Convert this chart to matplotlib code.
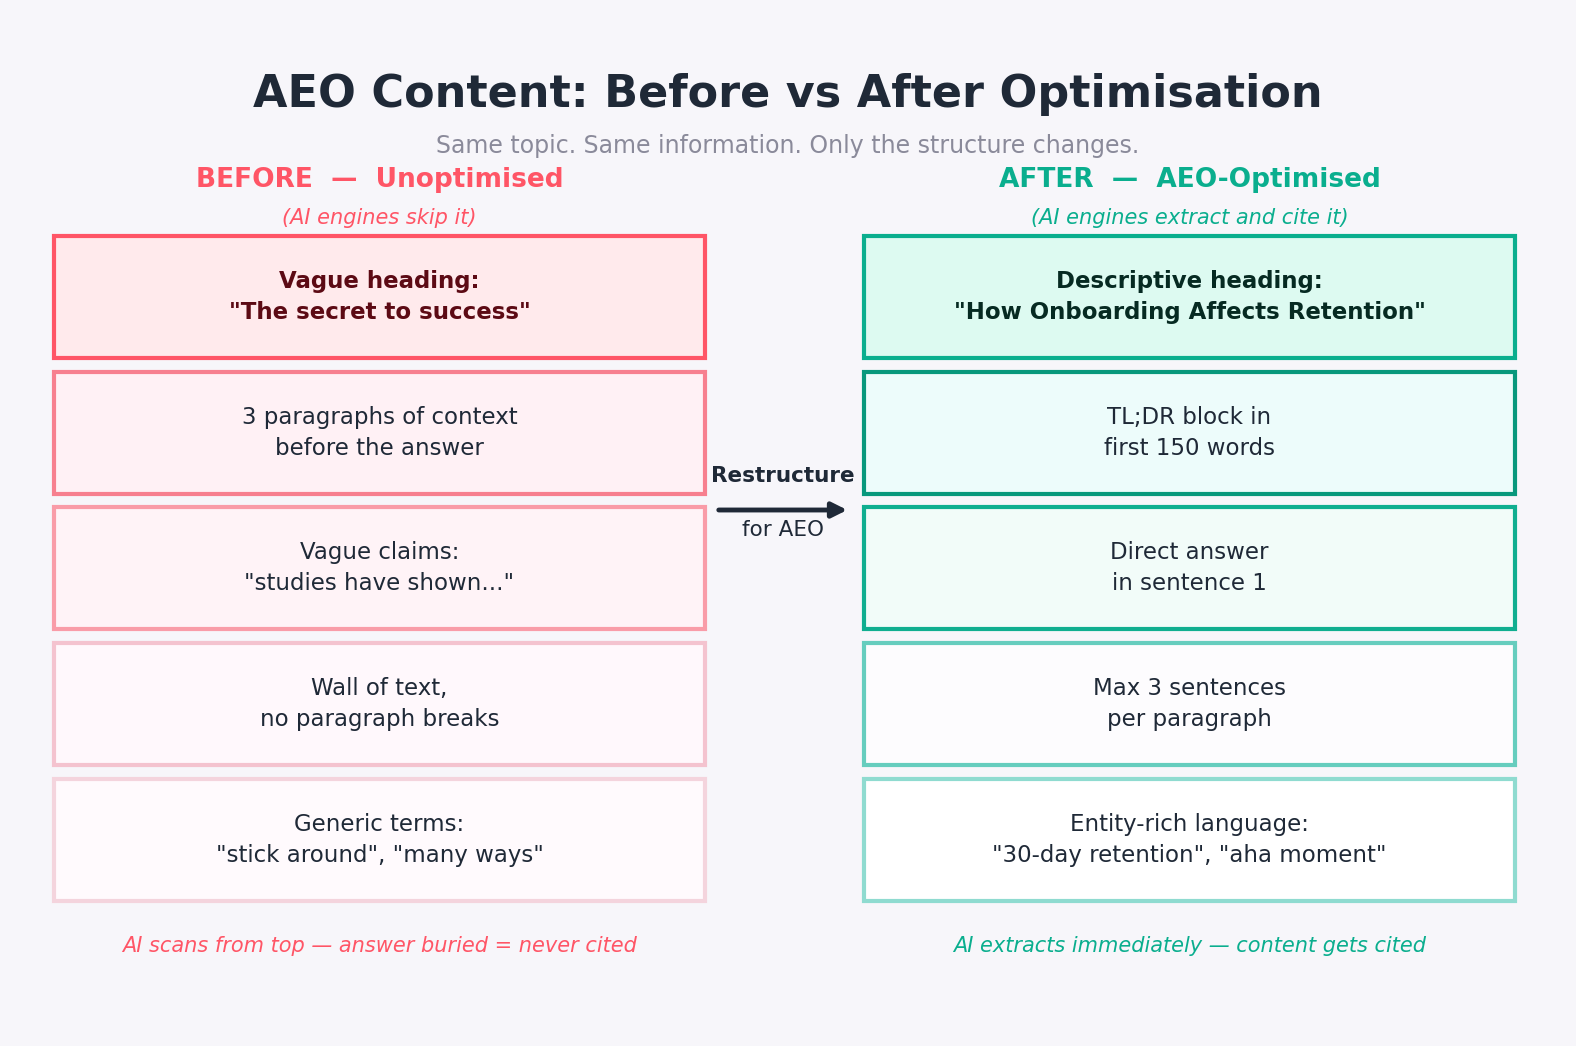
import matplotlib
matplotlib.use("Agg")
import matplotlib.pyplot as plt
from matplotlib.patches import Rectangle

title = "AEO Content: Before vs After Optimisation"
subtitle = "Same topic. Same information. Only the structure changes."
before_header = "BEFORE  —  Unoptimised"
before_sub = "(AI engines skip it)"
after_header = "AFTER  —  AEO-Optimised"
after_sub = "(AI engines extract and cite it)"
before_items = ['Vague heading:\n"The secret to success"',
                '3 paragraphs of context\nbefore the answer',
                'Vague claims:\n"studies have shown..."',
                'Wall of text,\nno paragraph breaks',
                'Generic terms:\n"stick around", "many ways"']
after_items = ['Descriptive heading:\n"How Onboarding Affects Retention"',
               'TL;DR block in\nfirst 150 words',
               'Direct answer\nin sentence 1',
               'Max 3 sentences\nper paragraph',
               'Entity-rich language:\n"30-day retention", "aha moment"']
before_footer = "AI scans from top — answer buried = never cited"
after_footer = "AI extracts immediately — content gets cited"
arrow_label = ("Restructure", "for AEO")

b_edge = ["#FF5566", "#F7808F", "#F99CA8", "#F4C3CF", "#F4D4DD"]
b_fill = ["#FFEAEC", "#FFF1F5", "#FFF3F7", "#FFF8FC", "#FFFAFD"]
a_edge = ["#0AAE8E", "#08987C", "#10AE90", "#66CDBE", "#8FDBD0"]
a_fill = ["#DDFAF1", "#EDFCFB", "#F2FCF9", "#FDFCFE", "#FFFFFF"]

fig = plt.figure(figsize=(15.76, 10.46), dpi=100)
fig.patch.set_facecolor("#F7F6FA")
ax = fig.add_axes([0, 0, 1, 1])
ax.set_xlim(0, 1576); ax.set_ylim(1046, 0); ax.axis("off")

ax.text(788, 95, title, ha="center", va="center", fontsize=32, fontweight="bold", color="#1F2937")
ax.text(788, 146, subtitle, ha="center", va="center", fontsize=17, color="#8A8A9A")

cols = [(54, before_header, before_sub, before_items, b_edge, b_fill, "#FF5566", "#5C0A14", before_footer),
        (864, after_header, after_sub, after_items, a_edge, a_fill, "#0AAE8E", "#062A22", after_footer)]
w, h, step = 651, 122, 135.7
for x0, hd, sb, items, ec, fc, col, dark, foot in cols:
    cx = x0 + w / 2
    ax.text(cx, 180, hd, ha="center", va="center", fontsize=19, fontweight="bold", color=col)
    ax.text(cx, 218, sb, ha="center", va="center", fontsize=15, style="italic", color=col)
    for i, t in enumerate(items):
        y0 = 236 + i * step
        ax.add_patch(Rectangle((x0, y0), w, h, facecolor=fc[i], edgecolor=ec[i], lw=3))
        if i == 0:
            ax.text(cx, y0 + h / 2, t, ha="center", va="center", fontsize=16.5,
                    fontweight="bold", color=dark, linespacing=1.45)
        else:
            ax.text(cx, y0 + h / 2, t, ha="center", va="center", fontsize=16.5,
                    color="#1F2937", linespacing=1.45)
    ax.text(cx, 946, foot, ha="center", va="center", fontsize=15, style="italic", color=col)

ax.annotate("", xy=(850, 510), xytext=(716, 510),
            arrowprops=dict(arrowstyle="-|>,head_length=0.9,head_width=0.45", color="#1F2937", lw=3.5))
ax.text(783, 476, arrow_label[0], ha="center", va="center", fontsize=15.5, fontweight="bold", color="#1F2937")
ax.text(783, 530, arrow_label[1], ha="center", va="center", fontsize=15.5, color="#1F2937")

fig.savefig("out.png", dpi=100, facecolor=fig.get_facecolor())
